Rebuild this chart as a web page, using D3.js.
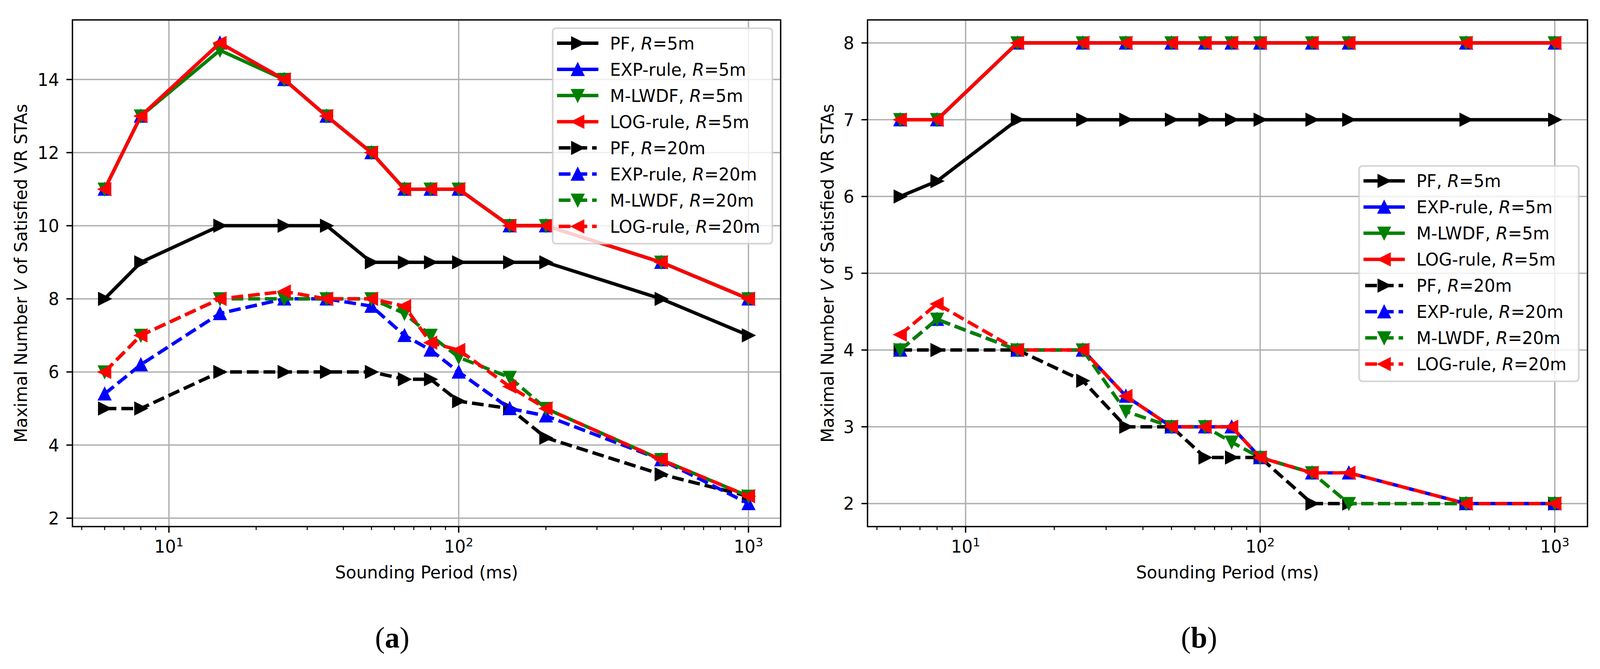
<!DOCTYPE html>
<html>
<head>
<meta charset="utf-8">
<script src="https://cdn.jsdelivr.net/npm/d3@7/dist/d3.min.js"></script>
<style>
  html, body { margin: 0; padding: 0; background: #fff; overflow: hidden; }
  svg { display: block; width: 100vw; height: 100vh; }
  text { font-family: "DejaVu Sans", sans-serif; fill: #000; }
</style>
</head>
<body>
<div id="chart"></div>
<script>
// Sounding periods (ms) shared by both panels
const periods = [6, 8, 15, 25, 35, 50, 65, 80, 100, 150, 200, 500, 1000];

// Panel (a)
const aPF5     = [8, 9, 10, 10, 10, 9, 9, 9, 9, 9, 9, 8, 7];
const aEXP5    = [11, 13, 15, 14, 13, 12, 11, 11, 11, 10, 10, 9, 8];
const aMLWDF5  = [11, 13, 14.8, 14, 13, 12, 11, 11, 11, 10, 10, 9, 8];
const aLOG5    = [11, 13, 15, 14, 13, 12, 11, 11, 11, 10, 10, 9, 8];
const aPF20    = [5, 5, 6, 6, 6, 6, 5.8, 5.8, 5.2, 5.0, 4.2, 3.2, 2.6];
const aEXP20   = [5.4, 6.2, 7.6, 8.0, 8.0, 7.8, 7.0, 6.6, 6.0, 5.0, 4.8, 3.6, 2.4];
const aMLWDF20 = [6, 7, 8, 8, 8, 8, 7.6, 7.0, 6.4, 5.85, 5.0, 3.6, 2.6];
const aLOG20   = [6, 7, 8, 8.2, 8, 8, 7.8, 6.8, 6.6, 5.6, 5.0, 3.6, 2.6];

// Panel (b)
const bPF5     = [6, 6.2, 7, 7, 7, 7, 7, 7, 7, 7, 7, 7, 7];
const bEXP5    = [7, 7, 8, 8, 8, 8, 8, 8, 8, 8, 8, 8, 8];
const bMLWDF5  = [7, 7, 8, 8, 8, 8, 8, 8, 8, 8, 8, 8, 8];
const bLOG5    = [7, 7, 8, 8, 8, 8, 8, 8, 8, 8, 8, 8, 8];
const bPF20    = [4, 4, 4, 3.6, 3.0, 3.0, 2.6, 2.6, 2.6, 2.0, 2.0, 2.0, 2.0];
const bEXP20   = [4.0, 4.4, 4.0, 4.0, 3.4, 3.0, 3.0, 3.0, 2.6, 2.4, 2.4, 2.0, 2.0];
const bMLWDF20 = [4.0, 4.4, 4.0, 4.0, 3.2, 3.0, 3.0, 2.8, 2.6, 2.4, 2.0, 2.0, 2.0];
const bLOG20   = [4.2, 4.6, 4.0, 4.0, 3.4, 3.0, 3.0, 3.0, 2.6, 2.4, 2.4, 2.0, 2.0];

// Legend entries
const schemes = ["PF", "EXP-rule", "M-LWDF", "LOG-rule", "PF", "EXP-rule", "M-LWDF", "LOG-rule"];
const radii   = ["5m", "5m", "5m", "5m", "20m", "20m", "20m", "20m"];
const colors  = ["#000000", "#0000ff", "#008000", "#ff0000", "#000000", "#0000ff", "#008000", "#ff0000"];
const markers = ["right", "up", "down", "left", "right", "up", "down", "left"];
const dashed  = [false, false, false, false, true, true, true, true];

// Tick values
const xTicks = [10, 100, 1000];
const aTicksY = [2, 4, 6, 8, 10, 12, 14];
const bTicksY = [2, 3, 4, 5, 6, 7, 8];

const W = 4218, H = 1713;
const plotTop = 27, plotBottom = 1363;
const FS = 45;          // 10pt at this resolution
const LW = 9;           // line width
const GRID = "#b0b0b0";

const panels = [
  {cap: "a", series: [aPF5, aEXP5, aMLWDF5, aLOG5, aPF20, aEXP20, aMLWDF20, aLOG20],
   yTicks: aTicksY, left: 191, right: 2058, labelX: 71, legX: 1457, legY: 49, capX: 1034},
  {cap: "b", series: [bPF5, bEXP5, bMLWDF5, bLOG5, bPF20, bEXP20, bMLWDF20, bLOG20],
   yTicks: bTicksY, left: 2287, right: 4185, labelX: 2198, legX: 3583, legY: 412, capX: 3161}
];

// viewBox keeps the whole figure inside the window whatever its css size
const svg = d3.select("#chart").append("svg")
  .attr("viewBox", `0 0 ${W} ${H}`)
  .attr("preserveAspectRatio", "xMidYMid meet");
svg.append("rect").attr("width", W).attr("height", H).attr("fill", "#fff");

// triangle marker path centred on 0,0
function markerPath(kind, r) {
  const pts = {
    up:    [[0, -r], [-r, r], [r, r]],
    down:  [[0, r], [-r, -r], [r, -r]],
    right: [[r, 0], [-r, -r], [-r, r]],
    left:  [[-r, 0], [r, -r], [r, r]]
  }[kind];
  return "M" + pts.map(p => p.join(",")).join("L") + "Z";
}

panels.forEach(p => {
  const g = svg.append("g");

  // matplotlib-like 5% margins
  const lx = d3.extent(periods).map(Math.log10);
  const mx = (lx[1] - lx[0]) * 0.05;
  const x = d3.scaleLog()
    .domain([Math.pow(10, lx[0] - mx), Math.pow(10, lx[1] + mx)])
    .range([p.left, p.right]);
  const ext = d3.extent(p.series.flat());
  const my = (ext[1] - ext[0]) * 0.05;
  const y = d3.scaleLinear()
    .domain([ext[0] - my, ext[1] + my])
    .range([plotBottom, plotTop]);

  // grid
  g.selectAll(".gx").data(xTicks).enter().append("line")
    .attr("x1", d => x(d)).attr("x2", d => x(d))
    .attr("y1", plotTop).attr("y2", plotBottom)
    .attr("stroke", GRID).attr("stroke-width", 3.6);
  g.selectAll(".gy").data(p.yTicks).enter().append("line")
    .attr("x1", p.left).attr("x2", p.right)
    .attr("y1", d => y(d)).attr("y2", d => y(d))
    .attr("stroke", GRID).attr("stroke-width", 3.6);

  // series
  const line = d3.line().x(d => x(d[0])).y(d => y(d[1]));
  p.series.forEach((vals, i) => {
    const pts = periods.map((t, j) => [t, vals[j]]);
    g.append("path")
      .datum(pts)
      .attr("d", line)
      .attr("fill", "none")
      .attr("stroke", colors[i])
      .attr("stroke-width", LW)
      .attr("stroke-linejoin", "round")
      .attr("stroke-linecap", dashed[i] ? "butt" : "square")
      .attr("stroke-dasharray", dashed[i] ? "31,13" : null);
    g.selectAll(null).data(pts).enter().append("path")
      .attr("d", markerPath(markers[i], 15.5))
      .attr("transform", d => `translate(${x(d[0])},${y(d[1])})`)
      .attr("fill", colors[i])
      .attr("stroke", colors[i])
      .attr("stroke-width", 4)
      .attr("stroke-linejoin", "miter");
  });

  // spines
  g.append("rect")
    .attr("x", p.left).attr("y", plotTop)
    .attr("width", p.right - p.left).attr("height", plotBottom - plotTop)
    .attr("fill", "none").attr("stroke", "#000").attr("stroke-width", 3.6);

  // x ticks (major + minor)
  const [d0, d1] = x.domain();
  const minor = [];
  for (let e = 0; e <= 3; e++) {
    for (let m = 2; m <= 9; m++) {
      const v = m * Math.pow(10, e);
      if (v >= d0 && v <= d1) minor.push(v);
    }
  }
  g.selectAll(".mx").data(minor).enter().append("line")
    .attr("x1", d => x(d)).attr("x2", d => x(d))
    .attr("y1", plotBottom).attr("y2", plotBottom + 9)
    .attr("stroke", "#000").attr("stroke-width", 2.7);
  g.selectAll(".tx").data(xTicks).enter().append("line")
    .attr("x1", d => x(d)).attr("x2", d => x(d))
    .attr("y1", plotBottom).attr("y2", plotBottom + 16)
    .attr("stroke", "#000").attr("stroke-width", 3.6);
  const xl = g.selectAll(".xl").data(xTicks).enter().append("text")
    .attr("x", d => x(d)).attr("y", 1432)
    .attr("text-anchor", "middle")
    .style("font-size", FS + "px");
  xl.append("tspan").text("10");
  xl.append("tspan").attr("dy", -17).style("font-size", "31.5px")
    .text(d => Math.round(Math.log10(d)));

  // y ticks
  g.selectAll(".ty").data(p.yTicks).enter().append("line")
    .attr("x1", p.left - 16).attr("x2", p.left)
    .attr("y1", d => y(d)).attr("y2", d => y(d))
    .attr("stroke", "#000").attr("stroke-width", 3.6);
  g.selectAll(".yl").data(p.yTicks).enter().append("text")
    .attr("x", p.left - 35).attr("y", d => y(d) + 16.5)
    .attr("text-anchor", "end")
    .style("font-size", FS + "px")
    .text(d => d);

  // axis labels
  g.append("text")
    .attr("x", (p.left + p.right) / 2).attr("y", 1500)
    .attr("text-anchor", "middle")
    .style("font-size", FS + "px")
    .text("Sounding Period (ms)");
  const yl = g.append("text")
    .attr("transform", `translate(${p.labelX},${(plotTop + plotBottom) / 2}) rotate(-90)`)
    .attr("text-anchor", "middle")
    .style("font-size", FS + "px");
  yl.append("tspan").text("Maximal Number ");
  yl.append("tspan").style("font-style", "italic").text("V");
  yl.append("tspan").text(" of Satisfied VR STAs");

  // legend
  const lg = g.append("g").attr("transform", `translate(${p.legX},${p.legY})`);
  lg.append("rect")
    .attr("x", 0).attr("y", 0).attr("width", 579).attr("height", 568)
    .attr("rx", 9).attr("ry", 9)
    .attr("fill", "#fff").attr("fill-opacity", 0.8)
    .attr("stroke", "#cccccc").attr("stroke-opacity", 0.8).attr("stroke-width", 4.5);
  schemes.forEach((s, i) => {
    const cy = 39.5 + i * 69;
    lg.append("line")
      .attr("x1", 16).attr("x2", 116).attr("y1", cy).attr("y2", cy)
      .attr("stroke", colors[i]).attr("stroke-width", LW)
      .attr("stroke-linecap", dashed[i] ? "butt" : "square")
      .attr("stroke-dasharray", dashed[i] ? "31,13" : null);
    lg.append("path")
      .attr("d", markerPath(markers[i], 15.5))
      .attr("transform", `translate(66,${cy})`)
      .attr("fill", colors[i]).attr("stroke", colors[i]).attr("stroke-width", 4);
    const t = lg.append("text")
      .attr("x", 151).attr("y", cy + 16.5)
      .style("font-size", FS + "px");
    t.append("tspan").text(s + ", ");
    t.append("tspan").style("font-style", "italic").text("R");
    t.append("tspan").text("=" + radii[i]);
  });

  // caption
  const c = svg.append("text")
    .attr("x", p.capX).attr("y", 1682)
    .attr("text-anchor", "middle")
    .style("font-family", "'Liberation Serif', 'DejaVu Serif', serif")
    .style("font-size", "78px");
  c.append("tspan").text("(");
  c.append("tspan").style("font-weight", "bold").text(p.cap);
  c.append("tspan").text(")");
});
</script>
</body>
</html>
